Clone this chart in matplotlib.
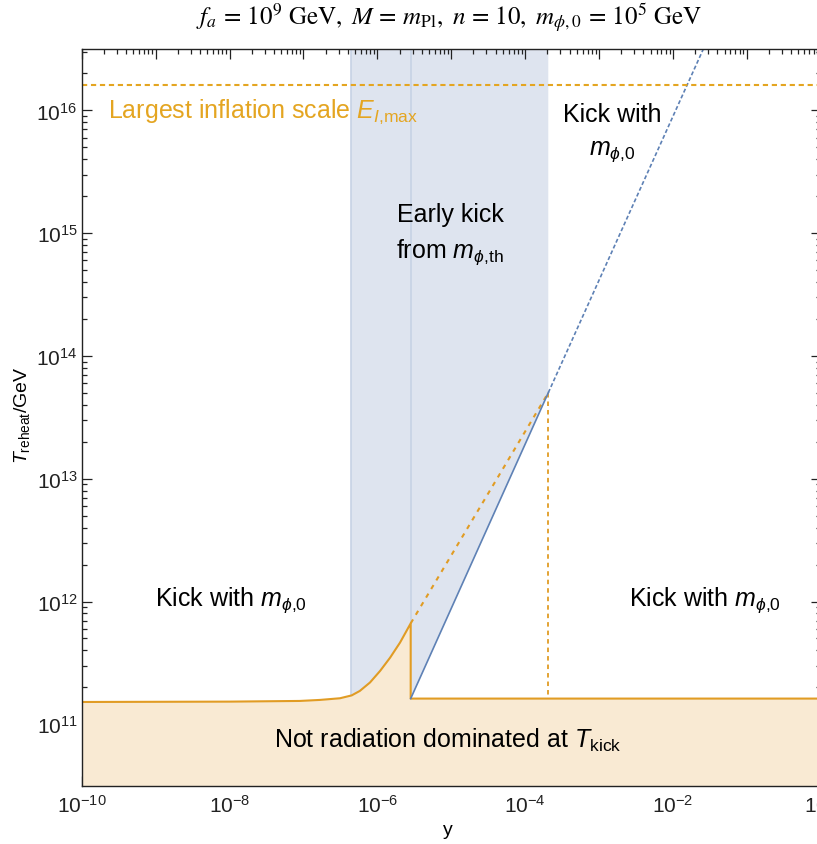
import numpy as np
import matplotlib
matplotlib.use("Agg")
import matplotlib.pyplot as plt
from matplotlib.ticker import LogLocator, FuncFormatter, NullFormatter

plt.rcParams['font.family'] = ['Liberation Sans', 'DejaVu Sans']
plt.rcParams['mathtext.fontset'] = 'custom'
plt.rcParams['mathtext.rm'] = 'Liberation Sans'
plt.rcParams['mathtext.it'] = 'Liberation Sans:italic'
plt.rcParams['mathtext.bf'] = 'Liberation Sans:bold'

# values
# orange boundary: flat part, thermal-mass bump, drop, flat again
y_curve = [1e-10, 1e-8, 9.0e-8, 1.68e-7, 3.13e-7, 4.5e-7, 5.8e-7, 7.96e-7,
           1.09e-6, 1.49e-6, 2.03e-6, 2.83e-6, 2.83e-6, 1.0]
T_curve = [1.52e11, 1.53e11, 1.55e11, 1.58e11, 1.63e11, 1.72e11, 1.87e11, 2.19e11,
           2.72e11, 3.49e11, 4.63e11, 6.64e11, 1.62e11, 1.62e11]

# early kick continuation (dotted) and its end point (dashed down)
y_early = [2.83e-6, 2.06e-4]
T_early = [6.64e11, 5.02e13]

# kick with m_phi,0 line (solid then dashed)
y_kick = [2.83e-6, 2.06e-4]
T_kick = [1.62e11, 5.02e13]
y_kick_ext = [2.06e-4, 2.58e-2, 4.0e-2]
T_kick_ext = [5.02e13, 3.16e16, 5.6e16]

# band of early kick from thermal mass
band_lo, band_hi = 4.4e-7, 2.06e-4
y_th = 2.83e-6

E_I_max = 1.6e16

xlim = (1e-10, 1.0)
ylim = (10**10.5, 10**16.5)

orange = '#E19C24'
gold = '#E4A521'
blue = '#5E81B5'
band_col = '#DEE4EF'
band_edge = '#C7D2E5'
fill_col = '#F9EAD3'

fig = plt.figure(figsize=(8.17, 8.45), dpi=100)
ax = fig.add_axes([81.7 / 817, (845 - 786.7) / 845, 739 / 817, 736.7 / 845])
ax.set_xscale('log')
ax.set_yscale('log')
ax.set_xlim(*xlim)
ax.set_ylim(*ylim)

# blue band: everything above the kick line inside the band
bx = [band_lo, y_th, y_th, y_kick[1], band_hi, band_lo]
by = [ylim[0], ylim[0], T_kick[0], T_kick[1], ylim[1], ylim[1]]
ax.fill(bx, by, color=band_col, lw=0, zorder=1)
ax.plot([band_lo, band_lo], ylim, color=band_edge, lw=1.2, zorder=1.5)
ax.plot([y_th, y_th], [T_early[0], ylim[1]], color=band_edge, lw=1.2, zorder=1.5)

# not radiation dominated region
ax.fill_between(y_curve, ylim[0] / 10, T_curve, color=fill_col, lw=0, zorder=2)
ax.plot(y_curve, T_curve, color=orange, lw=1.5, zorder=4)

ax.plot(y_early, T_early, color=orange, lw=1.5, dashes=(2.2, 2.6), zorder=4)
ax.plot([y_early[1], y_early[1]], [T_early[1], T_curve[-1]], color=orange, lw=1.3,
        dashes=(2.5, 2.2), zorder=4)

ax.plot(y_kick, T_kick, color=blue, lw=1.2, zorder=4)
ax.plot(y_kick_ext, T_kick_ext, color=blue, lw=1.2, dashes=(2.4, 1.4), zorder=4)

ax.axhline(E_I_max, color=gold, lw=1.5, dashes=(2.5, 1.8), zorder=4)

# ticks
ax.xaxis.set_major_locator(LogLocator(base=10, numticks=30))
ax.xaxis.set_minor_locator(LogLocator(base=10, subs=np.arange(2, 10), numticks=30))
ax.yaxis.set_major_locator(LogLocator(base=10, numticks=30))
ax.yaxis.set_minor_locator(LogLocator(base=10, subs=np.arange(2, 10), numticks=30))


def xfmt(v, pos):
    e = int(round(np.log10(v)))
    if e % 2:
        return ''
    return r'$\mathdefault{10^{%d}}$' % e


def yfmt(v, pos):
    e = int(round(np.log10(v)))
    return r'$\mathdefault{10^{%d}}$' % e


ax.xaxis.set_major_formatter(FuncFormatter(xfmt))
ax.yaxis.set_major_formatter(FuncFormatter(yfmt))
ax.xaxis.set_minor_formatter(NullFormatter())
ax.yaxis.set_minor_formatter(NullFormatter())
ax.tick_params(which='both', direction='in', top=True, right=True, labelsize=15,
               width=0.9, colors='#222222')
ax.tick_params(which='major', length=7)
ax.tick_params(which='minor', length=3.5)
ax.tick_params(axis='x', pad=6)
ax.tick_params(axis='y', pad=3)
for s in ax.spines.values():
    s.set_linewidth(1.0)
    s.set_color('#222222')
    s.set_zorder(6)

# labels in the plot
fs = 18
ax.text(0.0356, 0.9158, r'Largest inflation scale $E_{I{,}\rm max}$', color=gold,
        fontsize=fs, ha='left', va='center', transform=ax.transAxes, zorder=5)
ax.text(0.7176, 0.9118, 'Kick with', fontsize=fs, ha='center', va='center',
        transform=ax.transAxes, zorder=5)
ax.text(0.7176, 0.8615, r'$m_{\phi{,}0}$', fontsize=fs, ha='center', va='center',
        transform=ax.transAxes, zorder=5)
ax.text(0.4984, 0.776, 'Early kick', fontsize=fs, ha='center', va='center',
        transform=ax.transAxes, zorder=5)
ax.text(0.4984, 0.7258, r'from $m_{\phi{,}\rm th}$', fontsize=fs, ha='center',
        va='center', transform=ax.transAxes, zorder=5)
ax.text(0.202, 0.2534, r'Kick with $m_{\phi{,}0}$', fontsize=fs, ha='center',
        va='center', transform=ax.transAxes, zorder=5)
ax.text(0.8434, 0.2534, r'Kick with $m_{\phi{,}0}$', fontsize=fs, ha='center',
        va='center', transform=ax.transAxes, zorder=5)
ax.text(0.4957, 0.0634, r'Not radiation dominated at $T_{\rm kick}$', fontsize=fs,
        ha='center', va='center', transform=ax.transAxes, zorder=5)

fig.text(449 / 817, 1 - 18 / 845,
         r'$f_a\,=\,10^9\ \mathrm{GeV},\ M\,=\,m_{\mathrm{Pl}},\ n\,=\,10,\ '
         r'm_{\phi,0}\,=\,10^5\ \mathrm{GeV}$',
         fontsize=18, ha='center', va='center', math_fontfamily='stix')
fig.text(22 / 817, 1 - 415 / 845, r'$T_{\rm reheat}$/GeV', fontsize=14,
         rotation=90, ha='center', va='center')
fig.text(448 / 817, 1 - 831 / 845, 'y', fontsize=14, ha='center', va='center')

fig.savefig('out.png', dpi=100)
